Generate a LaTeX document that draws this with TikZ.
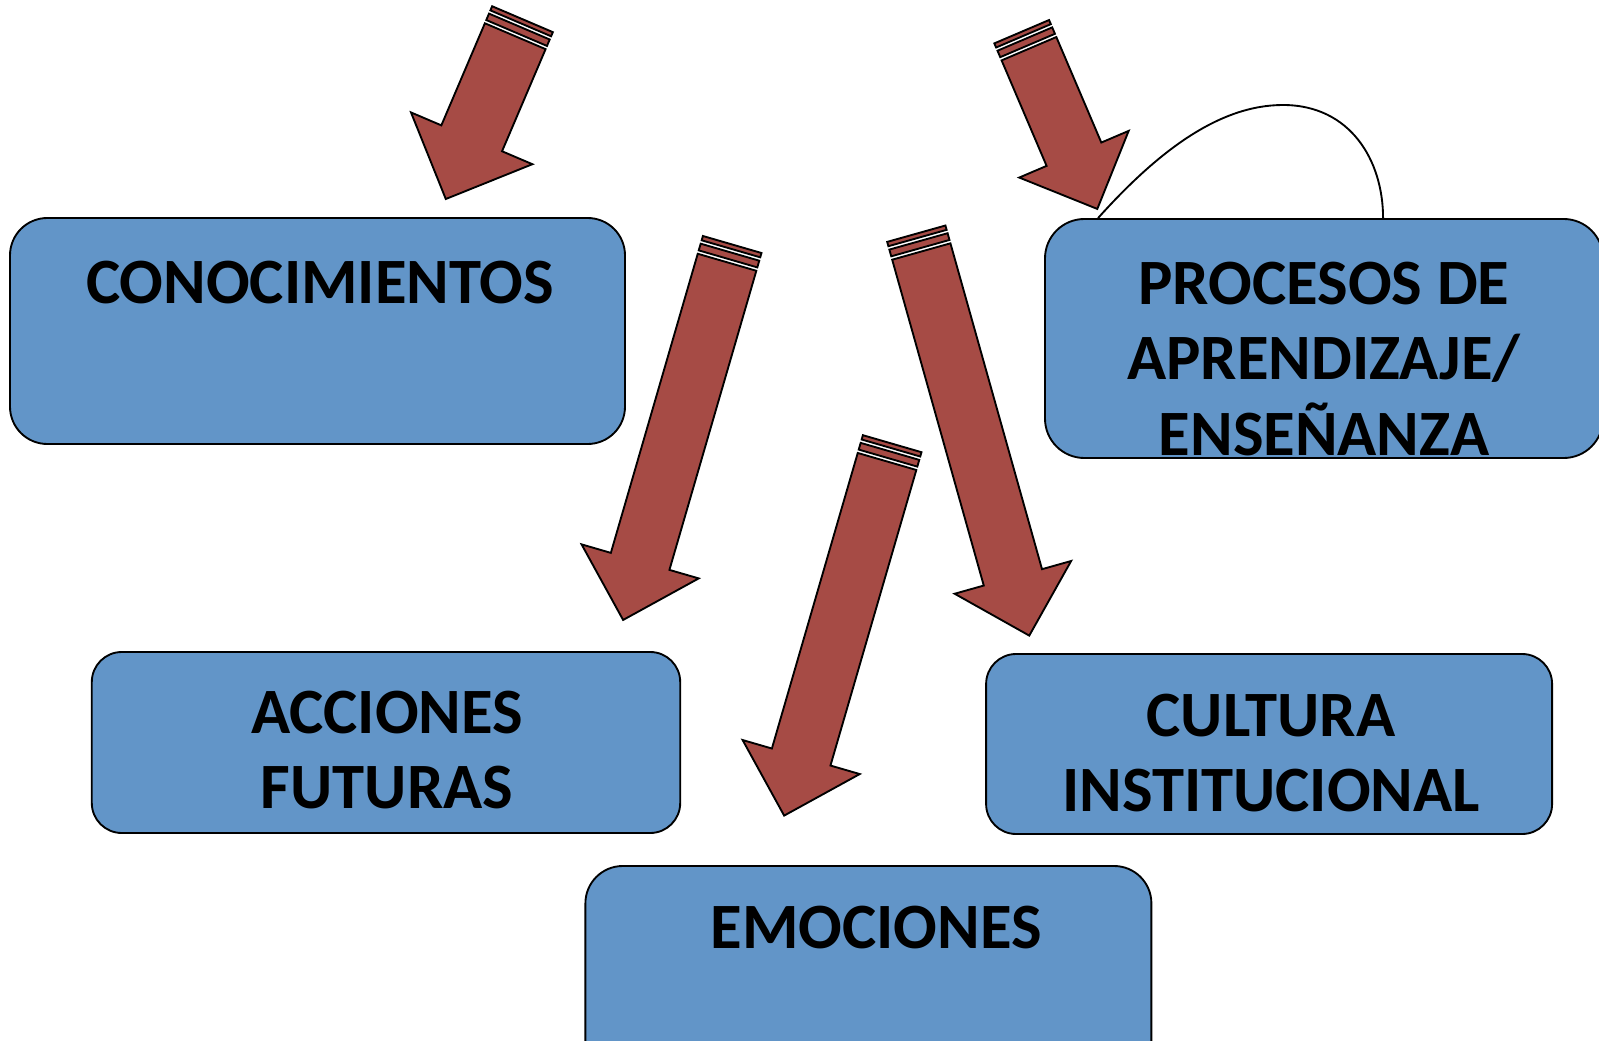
\documentclass[tikz,border=0pt]{standalone}
\usepackage{fontspec}
\setmainfont{Carlito}
\usetikzlibrary{calc}
\definecolor{boxblue}{RGB}{98,149,200}
\definecolor{arrowred}{RGB}{166,75,69}

\tikzset{
  box/.style={draw, line width=1.4pt, fill=boxblue, rectangle, inner sep=0pt},
  boxtext/.style={anchor=base, align=center, inner sep=0pt, font=\fontsize{48.5}{56.4}\selectfont\bfseries},
  arrowbody/.style={draw, line width=1.4pt, fill=arrowred, line join=miter},
  loopline/.style={draw, line width=1.4pt}
}

% striped arrow: tail x, tail y, angle, length, width
\newcommand{\stripearrow}[5]{%
  \begin{scope}[shift={(#1,#2)}, rotate=#3]
    \path[arrowbody] (0,-#5/2) rectangle (4.5,#5/2);
    \path[arrowbody] (8,-#5/2) rectangle (15,#5/2);
    \path[arrowbody] (18.5,-#5/2) -- (#4-#5,-#5/2) -- (#4-#5,-#5) -- (#4,0)
      -- (#4-#5,#5) -- (#4-#5,#5/2) -- (18.5,#5/2) -- cycle;
  \end{scope}}

\begin{document}
\begin{tikzpicture}[x=0.75pt,y=0.75pt,yscale=-1,xscale=1]
\useasboundingbox (0,0) rectangle (1599,1041);
\clip (0,0) rectangle (1599,1041);

%Rounded rectangles
\node (conoc) [box, rounded corners=28pt, minimum width=461.25pt, minimum height=169.5pt] at (317.5,331) {};
\node (procesos) [box, rounded corners=29.5pt, minimum width=418.5pt, minimum height=179.25pt] at (1324,338.5) {};
\node (acciones) [box, rounded corners=22.5pt, minimum width=441.3pt, minimum height=135.75pt] at (386,742.5) {};
\node (cultura) [box, rounded corners=22.5pt, minimum width=424.5pt, minimum height=135pt] at (1269.1,744) {};
\node (emociones) [box, rounded corners=28pt, minimum width=424.5pt, minimum height=169.5pt] at (868.4,979) {};

% Text Nodes (base = last line)
\node (conoc-txt) [boxtext] at (320,303.3) {CONOCIMIENTOS};
\node (procesos-txt) [boxtext] at (1324,455) {PROCESOS DE\\APRENDIZAJE/\\ENSEÑANZA};
\node (acciones-txt) [boxtext] at (387,808.3) {ACCIONES\\FUTURAS};
\node (cultura-txt) [boxtext] at (1271,811.7) {CULTURA\\INSTITUCIONAL};
\node (emociones-txt) [boxtext] at (876,948.3) {EMOCIONES};

%Striped arrows
\stripearrow{522.5}{19.2}{113.1}{195.5}{66}
\stripearrow{1021.7}{31.7}{66.9}{192.7}{59.5}
\stripearrow{732.2}{244.5}{106.2}{391}{61}
\stripearrow{916.3}{233.7}{74.3}{417.5}{60.5}
\stripearrow{892.2}{443.7}{106.2}{387.3}{61}

%Curve over the box
\coordinate (loop-top) at (1283,105);
\draw [loopline] ($(procesos.north west)+(54,0)$) .. controls +(61,-68) and +(-63,0) .. (loop-top)
  .. controls +(67,0) and +(0,-58) .. ($(procesos.north west)+(339,0)$);

\end{tikzpicture}
\end{document}
